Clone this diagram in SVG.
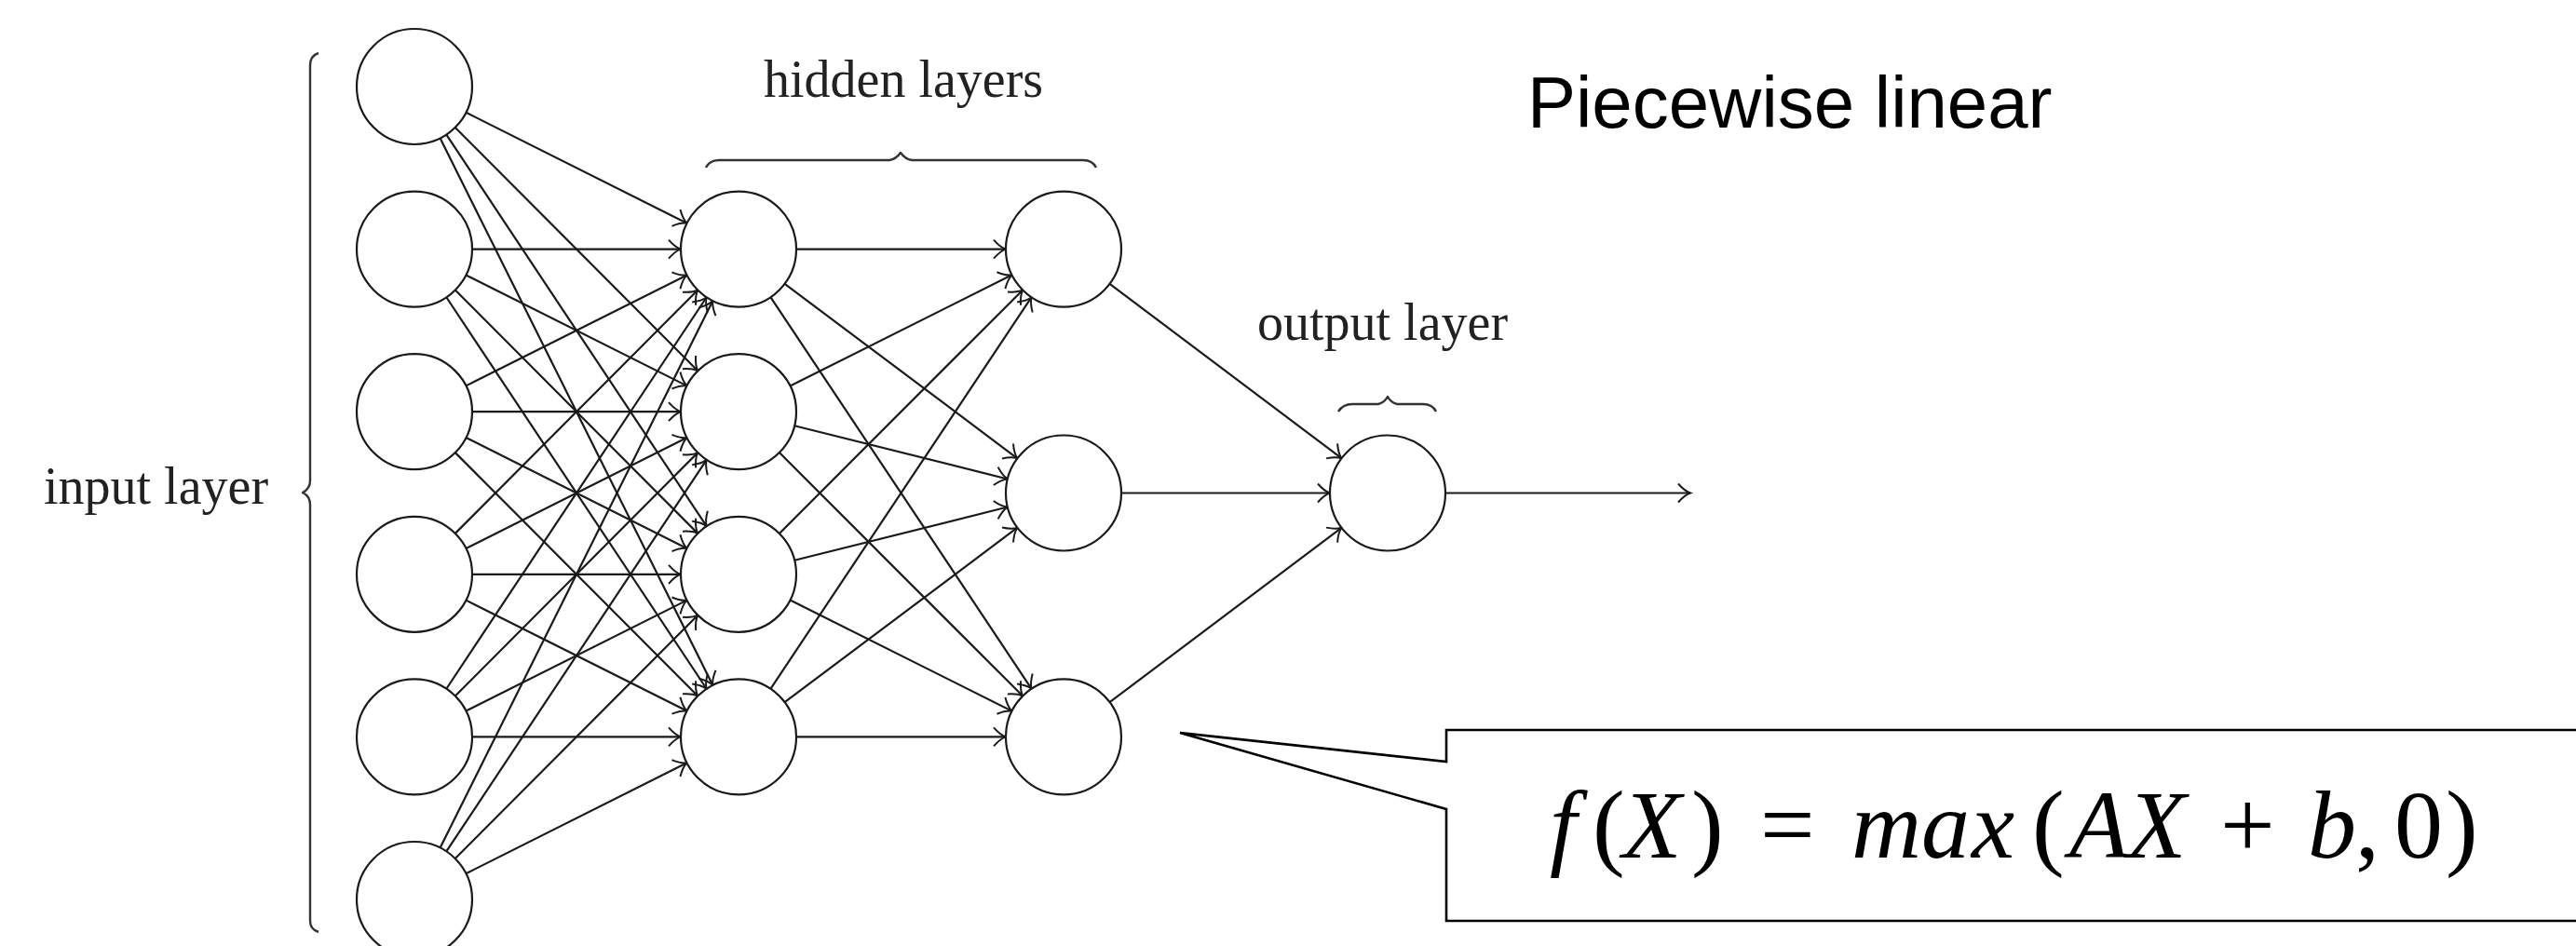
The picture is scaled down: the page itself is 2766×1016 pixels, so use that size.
<svg xmlns="http://www.w3.org/2000/svg" width="2766" height="1016" viewBox="0 0 2766 1016">
<style>
.node{fill:#fff;stroke:#1a1a1a;stroke-width:2.2}
.edge{fill:none;stroke:#1a1a1a;stroke-width:2.2;marker-end:url(#arr)}
.brace{fill:none;stroke:#333;stroke-width:2.4;stroke-linejoin:round}
.lbl{font-family:"Liberation Serif",serif;font-size:56px;fill:#222}
.title{font-family:"Liberation Sans",Arial,sans-serif;font-size:78px;fill:#000}
.eq{font-family:"Liberation Serif",serif;font-size:104px;fill:#000}
.it{font-style:italic}
.callout{fill:#fff;stroke:#000;stroke-width:2.6;stroke-linejoin:miter}
</style>
<defs>
<marker id="arr" markerUnits="userSpaceOnUse" viewBox="-16 -16 32 32" markerWidth="32" markerHeight="32" refX="0" refY="0" orient="auto" overflow="visible">
<path d="M-13,-10 Q-6,-2 0,0 Q-6,2 -13,10" fill="none" stroke="#1a1a1a" stroke-width="2"/>
</marker>
</defs>
<rect x="0" y="0" width="2766" height="1016" fill="#fff"/>

<g id="connectors">
<line class="edge" x1="500.42" y1="120.81" x2="737.58" y2="239.79"/>
<line class="edge" x1="488.77" y1="136.91" x2="749.23" y2="398.29"/>
<line class="edge" x1="479.31" y1="144.64" x2="758.69" y2="565.16"/>
<line class="edge" x1="472.65" y1="148.49" x2="765.35" y2="735.91"/>
<line class="edge" x1="507" y1="267.6" x2="731" y2="267.6"/>
<line class="edge" x1="500.42" y1="295.41" x2="737.58" y2="414.39"/>
<line class="edge" x1="488.77" y1="311.51" x2="749.23" y2="572.89"/>
<line class="edge" x1="479.31" y1="319.24" x2="758.69" y2="739.76"/>
<line class="edge" x1="500.42" y1="414.39" x2="737.58" y2="295.41"/>
<line class="edge" x1="507" y1="442.2" x2="731" y2="442.2"/>
<line class="edge" x1="500.42" y1="470.01" x2="737.58" y2="588.99"/>
<line class="edge" x1="488.77" y1="486.11" x2="749.23" y2="747.49"/>
<line class="edge" x1="488.77" y1="572.89" x2="749.23" y2="311.51"/>
<line class="edge" x1="500.42" y1="588.99" x2="737.58" y2="470.01"/>
<line class="edge" x1="507" y1="616.8" x2="731" y2="616.8"/>
<line class="edge" x1="500.42" y1="644.61" x2="737.58" y2="763.59"/>
<line class="edge" x1="479.31" y1="739.76" x2="758.69" y2="319.24"/>
<line class="edge" x1="488.77" y1="747.49" x2="749.23" y2="486.11"/>
<line class="edge" x1="500.42" y1="763.59" x2="737.58" y2="644.61"/>
<line class="edge" x1="507" y1="791.4" x2="731" y2="791.4"/>
<line class="edge" x1="472.65" y1="910.51" x2="765.35" y2="323.09"/>
<line class="edge" x1="479.31" y1="914.36" x2="758.69" y2="493.84"/>
<line class="edge" x1="488.77" y1="922.09" x2="749.23" y2="660.71"/>
<line class="edge" x1="500.42" y1="938.19" x2="737.58" y2="819.21"/>

<line class="edge" x1="855" y1="267.6" x2="1080" y2="267.6"/>
<line class="edge" x1="842.59" y1="304.82" x2="1092.41" y2="492.28"/>
<line class="edge" x1="827.38" y1="319.2" x2="1107.62" y2="739.8"/>
<line class="edge" x1="848.45" y1="414.46" x2="1086.55" y2="295.34"/>
<line class="edge" x1="853.15" y1="457.25" x2="1081.85" y2="514.45"/>
<line class="edge" x1="836.83" y1="486.05" x2="1098.17" y2="747.55"/>
<line class="edge" x1="836.83" y1="572.95" x2="1098.17" y2="311.45"/>
<line class="edge" x1="853.15" y1="601.75" x2="1081.85" y2="544.55"/>
<line class="edge" x1="848.45" y1="644.54" x2="1086.55" y2="763.66"/>
<line class="edge" x1="827.38" y1="739.8" x2="1107.62" y2="319.2"/>
<line class="edge" x1="842.59" y1="754.18" x2="1092.41" y2="566.72"/>
<line class="edge" x1="855" y1="791.4" x2="1080" y2="791.4"/>

<line class="edge" x1="1191.54" y1="304.89" x2="1440.46" y2="492.21"/>
<line class="edge" x1="1204" y1="529.5" x2="1428" y2="529.5"/>
<line class="edge" x1="1191.54" y1="754.11" x2="1440.46" y2="566.79"/>

<line class="edge" x1="1552" y1="529.5" x2="1815" y2="529.5"/>
</g>

<g id="input-nodes">
<g id="in1"><circle class="node" cx="445" cy="93" r="62"/></g>
<g id="in2"><circle class="node" cx="445" cy="267.6" r="62"/></g>
<g id="in3"><circle class="node" cx="445" cy="442.2" r="62"/></g>
<g id="in4"><circle class="node" cx="445" cy="616.8" r="62"/></g>
<g id="in5"><circle class="node" cx="445" cy="791.4" r="62"/></g>
<g id="in6"><circle class="node" cx="445" cy="966" r="62"/></g>
</g>
<g id="hidden1-nodes">
<g id="h1a"><circle class="node" cx="793" cy="267.6" r="62"/></g>
<g id="h1b"><circle class="node" cx="793" cy="442.2" r="62"/></g>
<g id="h1c"><circle class="node" cx="793" cy="616.8" r="62"/></g>
<g id="h1d"><circle class="node" cx="793" cy="791.4" r="62"/></g>
</g>
<g id="hidden2-nodes">
<g id="h2a"><circle class="node" cx="1142" cy="267.6" r="62"/></g>
<g id="h2b"><circle class="node" cx="1142" cy="529.5" r="62"/></g>
<g id="h2c"><circle class="node" cx="1142" cy="791.4" r="62"/></g>
</g>
<g id="output-node"><circle class="node" cx="1490" cy="529.5" r="62"/></g>

<g id="input-label">
<path class="brace" d="M342,57 Q333,60 333,70 L333,516 Q333,525 325,529 Q333,533 333,542 L333,989 Q333,998 342,1001"/>
<text class="lbl" x="47" y="541">input layer</text>
</g>
<g id="hidden-label">
<path class="brace" d="M758,180 Q762,172 772,172 L955,172 Q962,171 967,164 Q972,171 979,172 L1163,172 Q1173,172 1177,180"/>
<text class="lbl" x="820" y="104">hidden layers</text>
</g>
<g id="output-label">
<path class="brace" d="M1437,442 Q1442,434 1452,434 L1480,434 Q1487,432 1490,426 Q1493,432 1500,434 L1528,434 Q1538,434 1542,442"/>
<text class="lbl" x="1350" y="365">output layer</text>
</g>

<g id="title"><text class="title" x="1640" y="137">Piecewise linear</text></g>

<g id="callout">
<path class="callout" d="M1267,787 L1553,818 L1553,784 L2790,784 L2790,989 L1553,989 L1553,869 Z"/>
<text class="eq" y="921"><tspan class="it" x="1664">f</tspan><tspan x="1710">(</tspan><tspan class="it" x="1742">X</tspan><tspan x="1816">)</tspan><tspan x="1890">=</tspan><tspan class="it" x="1988">m</tspan><tspan class="it" x="2063">a</tspan><tspan class="it" x="2117">x</tspan><tspan x="2182">(</tspan><tspan class="it" x="2222">A</tspan><tspan class="it" x="2284">X</tspan><tspan x="2384">+</tspan><tspan class="it" x="2478">b</tspan><tspan x="2529">,</tspan><tspan x="2571">0</tspan><tspan x="2626">)</tspan></text>
</g>
</svg>
